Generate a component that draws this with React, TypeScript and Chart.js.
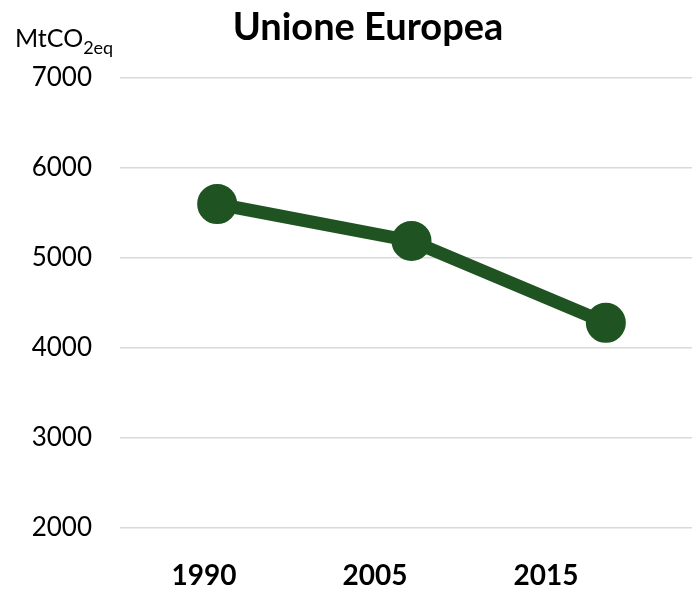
import React, { useEffect, useRef } from "react";
import { Chart, registerables } from "chart.js";

Chart.register(...registerables);

const categories: string[] = ["1990", "2005", "2015"];
const emissions: number[] = [5600, 5190, 4280];
const yMin = 2000;
const yMax = 7000;
const yStep = 1000;
const titleText = "Unione Europea";
const unitMain = "MtCO";
const unitSub = "2eq";

const FONT = "Lato, 'Open Sans', sans-serif";
const GREEN = "#1f5321";

const overlayPlugin = {
  id: "overlayText",
  afterDraw(chart: any) {
    const ctx = chart.ctx;
    ctx.save();
    ctx.fillStyle = "#000";
    ctx.textBaseline = "alphabetic";
    ctx.textAlign = "center";
    ctx.font = `bold 38px ${FONT}`;
    ctx.fillText(titleText, 368, 40);
    ctx.textAlign = "left";
    ctx.font = `25px ${FONT}`;
    ctx.fillText(unitMain, 15, 47);
    const w = ctx.measureText(unitMain).width;
    ctx.font = `18px ${FONT}`;
    ctx.fillText(unitSub, 15 + w, 54);
    ctx.restore();
  },
};

export default function App() {
  const ref = useRef<HTMLCanvasElement | null>(null);
  useEffect(() => {
    document.body.style.margin = "0";
    document.documentElement.style.overflow = "hidden";
    document.body.style.overflow = "hidden";
    const canvas = ref.current;
    if (!canvas) return;
    const chart = new Chart(canvas, {
      type: "line",
      data: {
        labels: categories,
        datasets: [
          {
            data: emissions,
            borderColor: GREEN,
            backgroundColor: GREEN,
            borderWidth: 13,
            pointRadius: 16,
            pointBorderWidth: 8,
            pointBackgroundColor: GREEN,
            pointBorderColor: GREEN,
            tension: 0,
            clip: false,
          },
        ],
      },
      options: {
        responsive: true,
        maintainAspectRatio: false,
        animation: false,
        layout: { autoPadding: false, padding: { top: 78, right: 7, left: 0, bottom: 0 } },
        plugins: { legend: { display: false }, tooltip: { enabled: false }, title: { display: false } },
        scales: {
          x: {
            offset: true,
            display: false,
          },
          xLabels: {
            type: "linear",
            position: "bottom",
            min: -0.491,
            max: 2.918,
            grid: { display: false, drawTicks: false },
            border: { display: false },
            afterBuildTicks(scale: any) {
              scale.ticks = categories.map((_, i) => ({ value: i }));
            },
            ticks: {
              color: "#000",
              font: { family: FONT, size: 28, weight: "bold" },
              padding: 31,
              autoSkip: false,
              maxRotation: 0,
              callback: (v: any) => categories[Math.round(Number(v))] ?? "",
            },
            afterFit(scale: any) {
              scale.height = 64;
              scale.paddingLeft = 0;
              scale.paddingRight = 0;
            },
          },
          y: {
            min: yMin,
            max: yMax,
            ticks: {
              stepSize: yStep,
              color: "#000",
              font: { family: FONT, size: 26 },
              padding: 28,
              callback: (v: any) => String(v),
            },
            grid: { color: "#d9d9d9", lineWidth: 1.5, drawTicks: false },
            border: { display: false },
            afterFit(scale: any) {
              scale.width = 120;
            },
          },
        },
      } as any,
      plugins: [overlayPlugin],
    });
    return () => chart.destroy();
  }, []);
  return (
    <div style={{ position: "relative", width: 710, minWidth: 710, height: 592, overflow: "hidden" }}>
      <canvas ref={ref} />
    </div>
  );
}
